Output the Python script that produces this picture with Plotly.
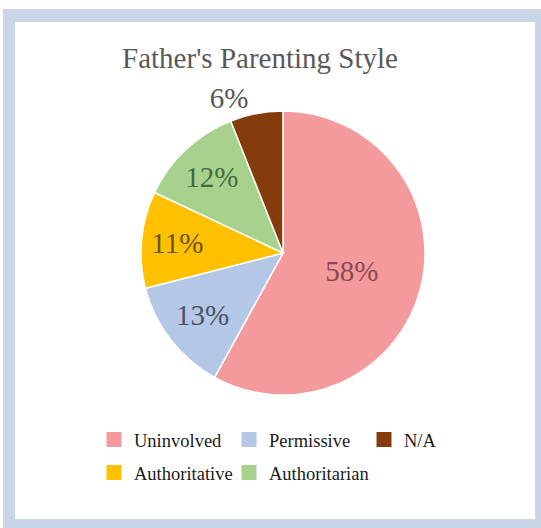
import plotly.graph_objects as go

title = "Father's Parenting Style"
categories = ["Uninvolved", "Permissive", "Authoritative", "Authoritarian", "N/A"]
values = [58, 13, 11, 12, 6]
colors = ["#F4999C", "#B4C7E7", "#FFC000", "#A9D18E", "#843C0C"]
label_colors = ["#8A4A52", "#4A5468", "#6B5420", "#426B3E", "#555555"]
legend_row1 = ["Uninvolved", "Permissive", "N/A"]
legend_row2 = ["Authoritative", "Authoritarian"]

W, H = 541, 528
cx, cy, r = 283, 253, 142

fig = go.Figure()
fig.add_trace(go.Pie(
    labels=categories, values=values, sort=False, direction="clockwise",
    rotation=0,
    marker=dict(colors=colors, line=dict(color="white", width=1.5)),
    texttemplate="%{percent:.0%}",
    textposition=["inside", "inside", "inside", "inside", "outside"],
    textfont=dict(family="Liberation Serif", size=29, color=label_colors),
    insidetextorientation="horizontal",
    showlegend=False, hoverinfo="label+percent",
    domain=dict(x=[(cx - r) / W, (cx + r) / W], y=[(H - cy - r) / H, (H - cy + r) / H]),
))

cmap = dict(zip(categories, colors))
for name in legend_row1:
    fig.add_trace(go.Scatter(x=[None], y=[None], mode="markers", name=name,
                             marker=dict(symbol="square", size=15, color=cmap[name]),
                             legend="legend"))
for name in legend_row2:
    fig.add_trace(go.Scatter(x=[None], y=[None], mode="markers", name=name,
                             marker=dict(symbol="square", size=15, color=cmap[name]),
                             legend="legend2"))
# invisible spacer entry so the last visible entry is not clipped
fig.add_trace(go.Scatter(x=[None], y=[None], mode="markers", name=" ",
                         marker=dict(symbol="square", size=15, color="rgba(0,0,0,0)"),
                         legend="legend2", hoverinfo="skip"))

legend_common = dict(orientation="h", xanchor="left", yanchor="middle",
                     entrywidth=90, entrywidthmode="pixels", itemwidth=30,
                     font=dict(family="Liberation Serif", size=18.5, color="#1A1A1A"),
                     bgcolor="rgba(0,0,0,0)", borderwidth=0, itemclick=False,
                     itemdoubleclick=False)

fig.update_layout(
    width=W, height=H,
    margin=dict(l=0, r=0, t=0, b=0, autoexpand=False),
    paper_bgcolor="white", plot_bgcolor="rgba(0,0,0,0)",
    title=dict(text=title, x=260 / W, y=1 - 58 / H, xanchor="center", yanchor="middle",
               font=dict(family="Liberation Serif", size=29, color="#595959")),
    xaxis=dict(visible=False), yaxis=dict(visible=False),
    legend=dict(x=94 / W, y=(H - 440) / H, **legend_common),
    legend2=dict(x=94 / W, y=(H - 473) / H, **legend_common),
    shapes=[
        dict(type="rect", xref="paper", yref="paper", x0=3 / W, x1=1, y0=0, y1=1 - 9 / H,
             fillcolor="#CAD5E8", line=dict(width=0), layer="below"),
        dict(type="rect", xref="paper", yref="paper", x0=15 / W, x1=535 / W,
             y0=1 - 519 / H, y1=1 - 22 / H,
             fillcolor="white", line=dict(width=0), layer="below"),
    ],
)

fig.write_html("out.html", config={"displayModeBar": False},
               post_script="document.body.style.margin='0';document.body.style.overflow='hidden';")
